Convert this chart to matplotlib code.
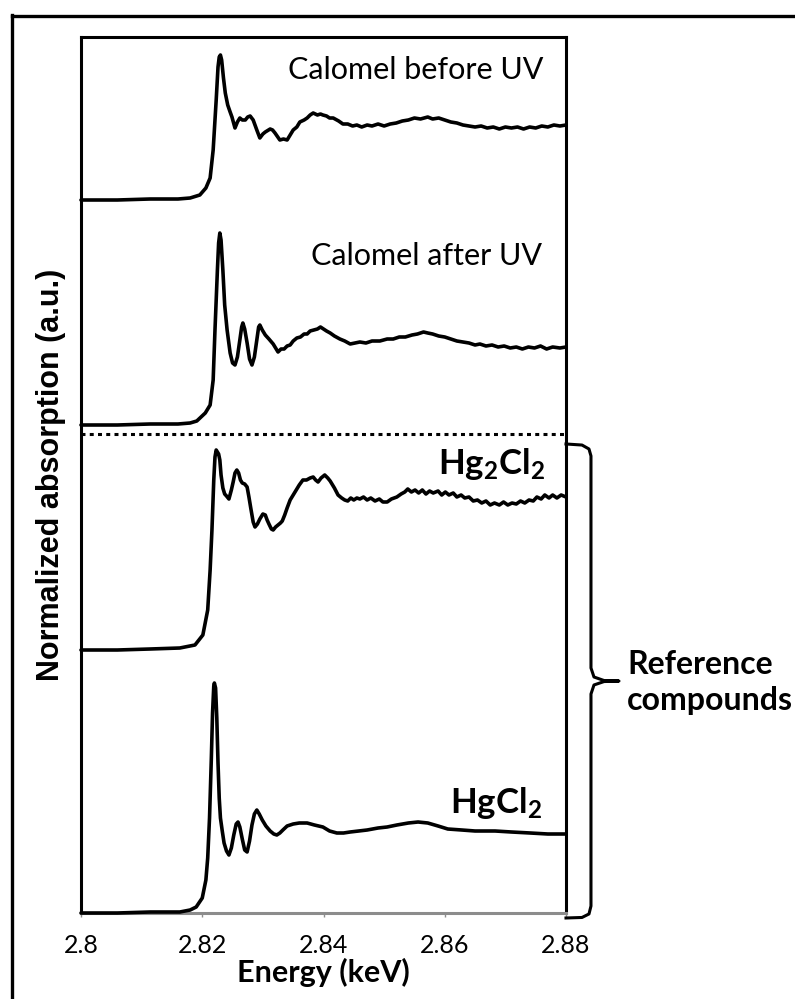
import numpy as np
import matplotlib.pyplot as plt
from matplotlib.lines import Line2D

plt.rcParams['font.family'] = ['Lato', 'DejaVu Sans']
plt.rcParams['mathtext.fontset'] = 'custom'
plt.rcParams['mathtext.rm'] = 'Lato'
plt.rcParams['mathtext.bf'] = 'Lato:bold'

# Hg L-edge XANES, energy in keV, absorption relative to each pre-edge baseline
e_before = [2.8000, 2.8060, 2.8114, 2.8160, 2.8180, 2.8196, 2.8206, 2.8213, 2.8218, 2.8223,
            2.8226, 2.8228, 2.8230, 2.8232, 2.8235, 2.8238, 2.8242, 2.8246, 2.8249, 2.8254,
            2.8258, 2.8262, 2.8266, 2.8271, 2.8275, 2.8279, 2.8284, 2.8290, 2.8295, 2.8300,
            2.8304, 2.8312, 2.8316, 2.8320, 2.8328, 2.8334, 2.8340, 2.8345, 2.8350, 2.8356,
            2.8361, 2.8368, 2.8373, 2.8378, 2.8383, 2.8390, 2.8395, 2.8399, 2.8405, 2.8410,
            2.8416, 2.8425, 2.8432, 2.8440, 2.8448, 2.8455, 2.8463, 2.8472, 2.8480, 2.8490,
            2.8500, 2.8510, 2.8520, 2.8530, 2.8540, 2.8550, 2.8560, 2.8572, 2.8580, 2.8590,
            2.8600, 2.8610, 2.8620, 2.8630, 2.8640, 2.8650, 2.8660, 2.8670, 2.8680, 2.8690,
            2.8700, 2.8710, 2.8720, 2.8730, 2.8740, 2.8750, 2.8760, 2.8770, 2.8780, 2.8790,
            2.8800]
a_before = [0.00, 0.00, 0.01, 0.01, 0.02, 0.05, 0.12, 0.22, 0.50, 1.00,
            1.33, 1.43, 1.45, 1.40, 1.22, 1.07, 0.95, 0.88, 0.83, 0.72,
            0.78, 0.82, 0.80, 0.80, 0.83, 0.84, 0.80, 0.70, 0.62, 0.66,
            0.68, 0.71, 0.70, 0.67, 0.60, 0.61, 0.60, 0.65, 0.70, 0.73,
            0.78, 0.80, 0.82, 0.85, 0.87, 0.85, 0.86, 0.85, 0.84, 0.82,
            0.82, 0.79, 0.76, 0.76, 0.74, 0.75, 0.73, 0.75, 0.74, 0.76,
            0.74, 0.76, 0.77, 0.79, 0.80, 0.82, 0.81, 0.83, 0.81, 0.82,
            0.80, 0.78, 0.77, 0.75, 0.74, 0.73, 0.74, 0.72, 0.73, 0.71,
            0.73, 0.72, 0.73, 0.71, 0.73, 0.72, 0.74, 0.73, 0.75, 0.74,
            0.75]

e_after = [2.8000, 2.8060, 2.8114, 2.8160, 2.8180, 2.8191, 2.8205, 2.8213, 2.8218, 2.8221,
           2.8225, 2.8227, 2.8229, 2.8231, 2.8234, 2.8237, 2.8241, 2.8246, 2.8250, 2.8254,
           2.8258, 2.8262, 2.8265, 2.8267, 2.8270, 2.8274, 2.8278, 2.8282, 2.8286, 2.8290,
           2.8293, 2.8295, 2.8299, 2.8304, 2.8310, 2.8317, 2.8322, 2.8325, 2.8330, 2.8335,
           2.8340, 2.8345, 2.8350, 2.8356, 2.8362, 2.8368, 2.8373, 2.8378, 2.8384, 2.8390,
           2.8395, 2.8400, 2.8405, 2.8411, 2.8418, 2.8427, 2.8435, 2.8444, 2.8452, 2.8460,
           2.8470, 2.8480, 2.8493, 2.8505, 2.8515, 2.8525, 2.8535, 2.8546, 2.8555, 2.8565,
           2.8572, 2.8580, 2.8590, 2.8600, 2.8610, 2.8620, 2.8630, 2.8640, 2.8650, 2.8658,
           2.8668, 2.8678, 2.8688, 2.8698, 2.8708, 2.8718, 2.8728, 2.8738, 2.8748, 2.8758,
           2.8768, 2.8778, 2.8790, 2.8800]
a_after = [0.00, 0.00, 0.01, 0.01, 0.02, 0.04, 0.12, 0.20, 0.45, 0.95,
           1.55, 1.82, 1.92, 1.85, 1.55, 1.20, 0.95, 0.72, 0.62, 0.60,
           0.68, 0.85, 0.98, 1.02, 0.96, 0.82, 0.66, 0.60, 0.68, 0.85,
           0.98, 1.00, 0.95, 0.90, 0.86, 0.81, 0.76, 0.73, 0.76, 0.76,
           0.79, 0.80, 0.84, 0.87, 0.88, 0.91, 0.91, 0.94, 0.95, 0.96,
           0.98, 0.96, 0.94, 0.92, 0.89, 0.86, 0.84, 0.81, 0.82, 0.83,
           0.82, 0.84, 0.84, 0.86, 0.86, 0.88, 0.88, 0.90, 0.91, 0.93,
           0.92, 0.91, 0.89, 0.88, 0.86, 0.84, 0.83, 0.82, 0.80, 0.81,
           0.79, 0.80, 0.78, 0.79, 0.77, 0.78, 0.76, 0.78, 0.77, 0.79,
           0.76, 0.78, 0.77, 0.78]

e_hg2cl2 = [2.8000, 2.8060, 2.8114, 2.8163, 2.8188, 2.8201, 2.8209, 2.8213, 2.8216, 2.8219,
            2.8221, 2.8223, 2.8225, 2.8227, 2.8229, 2.8231, 2.8234, 2.8237, 2.8240, 2.8244,
            2.8248, 2.8251, 2.8254, 2.8257, 2.8260, 2.8263, 2.8266, 2.8270, 2.8274, 2.8277,
            2.8280, 2.8284, 2.8287, 2.8291, 2.8295, 2.8300, 2.8304, 2.8307, 2.8310, 2.8314,
            2.8317, 2.8321, 2.8325, 2.8329, 2.8332, 2.8336, 2.8340, 2.8345, 2.8350, 2.8355,
            2.8360, 2.8366, 2.8372, 2.8378, 2.8383, 2.8387, 2.8391, 2.8396, 2.8402, 2.8407,
            2.8411, 2.8414, 2.8418, 2.8424, 2.8430, 2.8435, 2.8440, 2.8445, 2.8450, 2.8455,
            2.8460, 2.8466, 2.8472, 2.8478, 2.8485, 2.8492, 2.8498, 2.8505, 2.8512, 2.8521,
            2.8528, 2.8534, 2.8539, 2.8545, 2.8551, 2.8557, 2.8563, 2.8569, 2.8575, 2.8581,
            2.8589, 2.8595, 2.8601, 2.8607, 2.8614, 2.8620, 2.8627, 2.8633, 2.8640, 2.8647,
            2.8654, 2.8661, 2.8668, 2.8675, 2.8682, 2.8690, 2.8697, 2.8704, 2.8711, 2.8718,
            2.8725, 2.8732, 2.8739, 2.8746, 2.8752, 2.8759, 2.8765, 2.8772, 2.8778, 2.8785,
            2.8792, 2.8800]
a_hg2cl2 = [0.00, 0.00, 0.01, 0.02, 0.05, 0.15, 0.40, 0.80, 1.20, 1.70,
            1.93, 2.00, 1.98, 1.96, 1.90, 1.75, 1.62, 1.56, 1.54, 1.51,
            1.60, 1.68, 1.77, 1.80, 1.77, 1.70, 1.67, 1.66, 1.63, 1.53,
            1.42, 1.28, 1.23, 1.26, 1.31, 1.36, 1.35, 1.30, 1.26, 1.21,
            1.20, 1.23, 1.25, 1.27, 1.29, 1.35, 1.42, 1.50, 1.55, 1.60,
            1.65, 1.70, 1.70, 1.72, 1.73, 1.70, 1.68, 1.72, 1.75, 1.72,
            1.69, 1.66, 1.62, 1.55, 1.52, 1.50, 1.49, 1.52, 1.50, 1.52,
            1.51, 1.53, 1.50, 1.52, 1.49, 1.51, 1.48, 1.48, 1.51, 1.53,
            1.56, 1.58, 1.61, 1.58, 1.60, 1.57, 1.60, 1.56, 1.59, 1.57,
            1.59, 1.55, 1.58, 1.55, 1.57, 1.53, 1.55, 1.52, 1.53, 1.49,
            1.50, 1.47, 1.49, 1.45, 1.47, 1.45, 1.48, 1.45, 1.47, 1.46,
            1.49, 1.47, 1.50, 1.49, 1.53, 1.51, 1.55, 1.52, 1.55, 1.52,
            1.55, 1.53]

e_hgcl2 = [2.8000, 2.8060, 2.8114, 2.8163, 2.8180, 2.8190, 2.8200, 2.8206, 2.8209, 2.8212,
           2.8215, 2.8217, 2.8219, 2.8220, 2.8222, 2.8224, 2.8226, 2.8228, 2.8230, 2.8233,
           2.8236, 2.8240, 2.8244, 2.8248, 2.8252, 2.8256, 2.8259, 2.8262, 2.8266, 2.8270,
           2.8274, 2.8278, 2.8282, 2.8286, 2.8290, 2.8294, 2.8299, 2.8305, 2.8312, 2.8318,
           2.8323, 2.8328, 2.8333, 2.8340, 2.8350, 2.8360, 2.8373, 2.8385, 2.8399, 2.8410,
           2.8422, 2.8433, 2.8444, 2.8458, 2.8472, 2.8490, 2.8505, 2.8521, 2.8540, 2.8556,
           2.8572, 2.8589, 2.8605, 2.8628, 2.8650, 2.8683, 2.8710, 2.8741, 2.8770, 2.8800]
a_hgcl2 = [0.00, 0.00, 0.01, 0.01, 0.03, 0.06, 0.15, 0.33, 0.55, 0.95,
           1.55, 2.00, 2.27, 2.30, 2.25, 1.95, 1.50, 1.15, 0.95, 0.82,
           0.70, 0.62, 0.58, 0.65, 0.78, 0.89, 0.91, 0.86, 0.74, 0.63,
           0.61, 0.72, 0.88, 0.99, 1.03, 0.99, 0.93, 0.87, 0.82, 0.79,
           0.78, 0.80, 0.83, 0.87, 0.89, 0.90, 0.90, 0.88, 0.86, 0.82,
           0.80, 0.80, 0.81, 0.82, 0.83, 0.85, 0.86, 0.88, 0.90, 0.91,
           0.90, 0.87, 0.84, 0.83, 0.82, 0.82, 0.81, 0.80, 0.79, 0.79]

# vertical stacking of the four spectra
offsets = {'before': 7.13, 'after': 4.88, 'hg2cl2': 2.63, 'hgcl2': 0.0}
sep_level = 4.79
x_ticks = [2.80, 2.82, 2.84, 2.86, 2.88]
x_ticklabels = ['2.8', '2.82', '2.84', '2.86', '2.88']

fig = plt.figure(figsize=(7.95, 9.99), dpi=100)
ax = fig.add_axes([81/795, 86/999, 485/795, 876/999])

lw = 2.6
for e, a, key in [(e_before, a_before, 'before'), (e_after, a_after, 'after'),
                  (e_hg2cl2, a_hg2cl2, 'hg2cl2'), (e_hgcl2, a_hgcl2, 'hgcl2')]:
    ax.plot(e, np.array(a) + offsets[key], color='black', lw=lw,
            solid_joinstyle='round', solid_capstyle='round', zorder=3, clip_on=False)

# dotted separator between samples and references
ax.axhline(sep_level, color='black', lw=2.2, linestyle=(0, (1.3, 1.4)),
           dash_capstyle='butt', zorder=2)

ax.set_xlim(2.80, 2.88)
ax.set_ylim(0, 8.76)
ax.set_xticks(x_ticks)
ax.set_xticklabels(x_ticklabels)
ax.set_yticks([])
ax.tick_params(axis='x', direction='out', length=3, width=1, color='#8c8c8c',
               labelsize=18, pad=12)

for s in ['left', 'top', 'right']:
    ax.spines[s].set_linewidth(2.2)
    ax.spines[s].set_color('black')
ax.spines['bottom'].set_linewidth(2.2)
ax.spines['bottom'].set_color('#8c8c8c')

ax.set_xlabel('Energy (keV)', fontsize=22, fontweight='bold', labelpad=1)
ax.set_ylabel('Normalized absorption (a.u.)', fontsize=22, fontweight='bold',
              family=['Liberation Sans', 'DejaVu Sans'], labelpad=11)

# sample / reference labels
ax.text(0.953, 0.962, 'Calomel before UV', transform=ax.transAxes,
        ha='right', va='center', fontsize=22)
ax.text(0.951, 0.750, 'Calomel after UV', transform=ax.transAxes,
        ha='right', va='center', fontsize=22)
ax.text(0.957, 0.513, r'$\mathbf{Hg_2Cl_2}$', transform=ax.transAxes,
        ha='right', va='center', fontsize=25)
ax.text(0.951, 0.1256, r'$\mathbf{HgCl_2}$', transform=ax.transAxes,
        ha='right', va='center', fontsize=25)

# curly bracket grouping the reference compounds
bx = [1.0, 1.033, 1.0474, 1.0515, 1.0515, 1.0577, 1.0784, 1.1093,
      1.0784, 1.0577, 1.0515, 1.0515, 1.0474, 1.033, 1.0]
by = [0.5354, 0.5342, 0.5297, 0.5217, 0.2797, 0.2694, 0.2654, 0.2648,
      0.2642, 0.2603, 0.25, 0.0080, -0.0011, -0.0051, -0.0057]
ax.plot(bx, by, transform=ax.transAxes, color='black', lw=2.2, clip_on=False,
        solid_joinstyle='round')
ax.text(1.1258, 0.263, 'Reference\ncompounds', transform=ax.transAxes,
        ha='left', va='center', fontsize=23, fontweight='bold',
        linespacing=1.3)

# outer frame (open to the right and bottom)
fig.add_artist(Line2D([12/795, 12/795], [0, 1 - 15/999], color='black', lw=2.4))
fig.add_artist(Line2D([12/795, 1], [1 - 16/999, 1 - 16/999], color='black', lw=2.4))

plt.savefig('out.png', dpi=100)
